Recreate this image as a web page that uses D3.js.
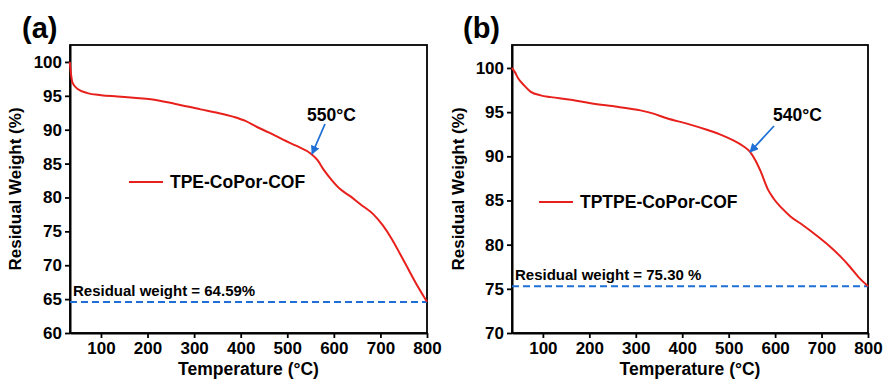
<!DOCTYPE html>
<html>
<head>
<meta charset="utf-8">
<script src="https://cdn.jsdelivr.net/npm/d3@7"></script>
<style>
  body { margin: 0; background: #fff; }
  text { font-family: "Liberation Sans", Arial, sans-serif; font-weight: bold; fill: #000; }
</style>
</head>
<body>
<div id="tga"></div>
<script>
// panel (a) TPE-CoPor-COF
const tempA = [33, 36, 39, 50, 71, 100, 135, 170, 207, 260, 314, 350, 385, 410, 435, 460, 492, 520, 550, 565, 578, 595, 614, 635, 657, 685, 706, 725, 742, 760, 779, 800];
const weightA = [100, 98.0, 96.9, 96.0, 95.4, 95.1, 94.9, 94.7, 94.5, 93.8, 93.0, 92.5, 91.9, 91.3, 90.4, 89.6, 88.5, 87.6, 86.5, 85.5, 84.1, 82.6, 81.2, 80.2, 79.0, 77.5, 75.8, 73.8, 71.7, 69.4, 67.0, 64.6];
// panel (b) TPTPE-CoPor-COF
const tempB = [33, 40, 46, 60, 74, 95, 117, 160, 203, 260, 310, 340, 367, 410, 453, 485, 510, 530, 546, 558, 568, 585, 597, 615, 633, 660, 683, 718, 740, 761, 780, 800];
const weightB = [100, 99.5, 98.9, 98.0, 97.3, 96.9, 96.7, 96.4, 96.0, 95.6, 95.2, 94.8, 94.3, 93.7, 93.0, 92.4, 91.8, 91.2, 90.5, 89.5, 88.4, 86.2, 85.2, 84.1, 83.2, 82.2, 81.3, 79.8, 78.7, 77.5, 76.3, 75.3];

const xTicks = [100, 200, 300, 400, 500, 600, 700, 800];
const yTicksA = [60, 65, 70, 75, 80, 85, 90, 95, 100];
const yTicksB = [70, 75, 80, 85, 90, 95, 100];

const panels = [
  { tag: "(a)", left: 70, right: 427, yDomain: [60, 102.5], yTicks: yTicksA,
    temp: tempA, weight: weightA, name: "TPE-CoPor-COF", residual: 64.59,
    resLabel: "Residual weight = 64.59%", onset: "550\u00B0C",
    arrow: [[325, 124], [312, 154]], labelPos: [307, 121],
    legend: [129, 182], titleX: 21, tagX: 22 },
  { tag: "(b)", left: 512, right: 868, yDomain: [70, 102.6], yTicks: yTicksB,
    temp: tempB, weight: weightB, name: "TPTPE-CoPor-COF", residual: 75.30,
    resLabel: "Residual weight = 75.30 %", onset: "540\u00B0C",
    arrow: [[774, 126], [750, 152]], labelPos: [773, 121],
    legend: [539, 202], titleX: 464, tagX: 463 }
];

const W = 885, H = 380, plotTop = 45, plotBottom = 333;
const red = "#e8201c", blue = "#1f6fd6";

const svg = d3.select("#tga").append("svg")
  .attr("width", W).attr("height", H);

svg.append("defs").append("marker")
  .attr("id", "head")
  .attr("viewBox", "0 0 10 10")
  .attr("refX", 9).attr("refY", 5)
  .attr("markerWidth", 5).attr("markerHeight", 5)
  .attr("orient", "auto")
  .append("path").attr("d", "M0,0 L10,5 L0,10 z").attr("fill", blue);

panels.forEach(p => {
  const x = d3.scaleLinear().domain([33.5, 800]).range([p.left, p.right]);
  const y = d3.scaleLinear().domain(p.yDomain).range([plotBottom, plotTop]);
  const g = svg.append("g");

  // frame
  g.append("rect")
    .attr("x", p.left).attr("y", plotTop)
    .attr("width", p.right - p.left).attr("height", plotBottom - plotTop)
    .attr("fill", "none").attr("stroke", "#000").attr("stroke-width", 1.8);

  const xAxis = g.append("g")
    .attr("transform", `translate(0,${plotBottom})`)
    .call(d3.axisBottom(x).tickValues(xTicks).tickSize(5).tickPadding(4).tickSizeOuter(0));
  const yAxis = g.append("g")
    .attr("transform", `translate(${p.left},0)`)
    .call(d3.axisLeft(y).tickValues(p.yTicks).tickSize(5).tickPadding(3).tickSizeOuter(0));
  [xAxis, yAxis].forEach(a => {
    a.select(".domain").attr("stroke-width", 2);
    a.selectAll(".tick line").attr("stroke-width", 1.8);
    a.selectAll("text").attr("font-size", 17).attr("font-family", null).attr("fill", "#000");
  });

  // residual dashed line
  g.append("line")
    .attr("x1", p.left).attr("x2", p.right)
    .attr("y1", y(p.residual)).attr("y2", y(p.residual))
    .attr("stroke", blue).attr("stroke-width", 2)
    .attr("stroke-dasharray", "7,4");
  g.append("text")
    .attr("x", p.left + 3).attr("y", y(p.residual) - 6)
    .attr("font-size", 15).text(p.resLabel);

  // curve
  const line = d3.line().x((d, i) => x(p.temp[i])).y(d => y(d)).curve(d3.curveMonotoneX);
  g.append("path")
    .datum(p.weight)
    .attr("d", line)
    .attr("fill", "none").attr("stroke", red).attr("stroke-width", 2);

  // legend
  g.append("line")
    .attr("x1", p.legend[0]).attr("x2", p.legend[0] + 34)
    .attr("y1", p.legend[1]).attr("y2", p.legend[1])
    .attr("stroke", red).attr("stroke-width", 2);
  g.append("text")
    .attr("x", p.legend[0] + 41).attr("y", p.legend[1] + 6)
    .attr("font-size", 17.5).text(p.name);

  // onset annotation
  g.append("text")
    .attr("x", p.labelPos[0]).attr("y", p.labelPos[1])
    .attr("font-size", 17.5).text(p.onset);
  g.append("line")
    .attr("x1", p.arrow[0][0]).attr("y1", p.arrow[0][1])
    .attr("x2", p.arrow[1][0]).attr("y2", p.arrow[1][1])
    .attr("stroke", blue).attr("stroke-width", 1.8)
    .attr("marker-end", "url(#head)");

  // titles
  g.append("text")
    .attr("transform", `translate(${p.titleX},${(plotTop + plotBottom) / 2}) rotate(-90)`)
    .attr("text-anchor", "middle").attr("font-size", 17)
    .text("Residual Weight (%)");
  g.append("text")
    .attr("x", (p.left + p.right) / 2).attr("y", 375)
    .attr("text-anchor", "middle").attr("font-size", 17.5)
    .text("Temperature (\u00B0C)");
  g.append("text")
    .attr("x", p.tagX).attr("y", 38)
    .attr("font-size", 29).text(p.tag);
});
</script>
</body>
</html>
